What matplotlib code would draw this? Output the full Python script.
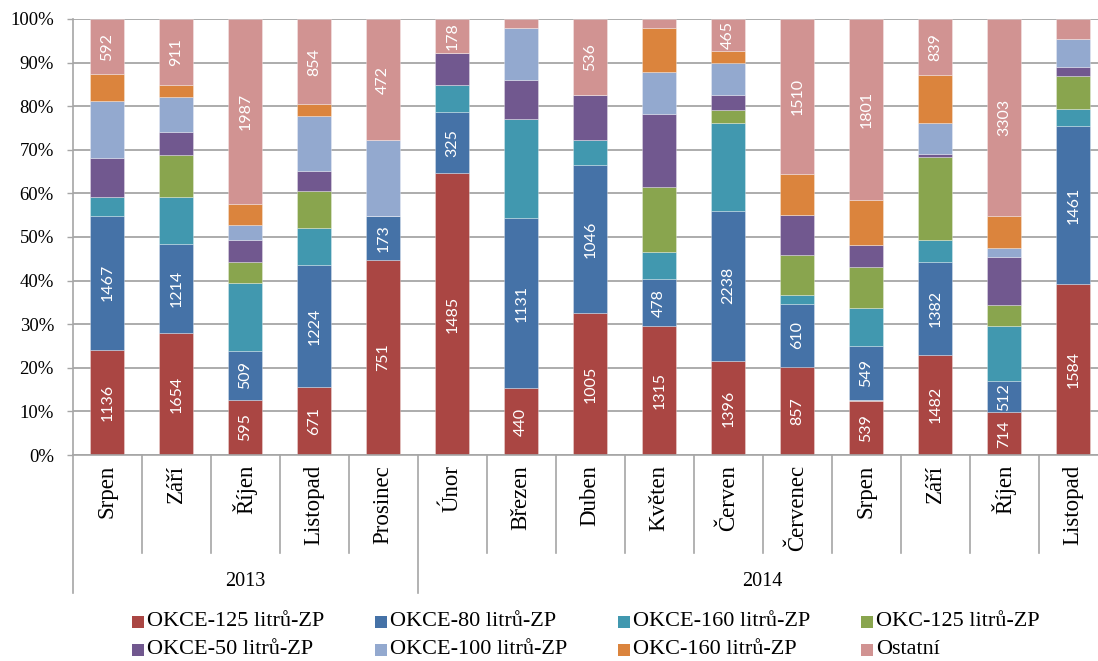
import matplotlib
matplotlib.use("Agg")
import matplotlib.pyplot as plt
from matplotlib.patches import Rectangle
import numpy as np

months = ["Srpen", "Září", "Říjen", "Listopad", "Prosinec", "Únor", "Březen",
          "Duben", "Květen", "Červen", "Červenec", "Srpen", "Září", "Říjen", "Listopad"]
years = ["2013", "2014"]
year_counts = [5, 10]

series_names = ["OKCE-125 litrů-ZP", "OKCE-80 litrů-ZP", "OKCE-160 litrů-ZP", "OKC-125 litrů-ZP",
                "OKCE-50 litrů-ZP", "OKCE-100 litrů-ZP", "OKC-160 litrů-ZP", "Ostatní"]
colors = ["#AA4643", "#4572A7", "#4198AF", "#89A54E", "#71588F", "#93A9CF", "#DB843D", "#D19392"]

# shares (%)
okce125 = [24.1, 27.9, 12.7, 15.5, 44.7, 64.6, 15.3, 32.6, 29.6, 21.6, 20.2, 12.5, 23.0, 9.8, 39.2]
okce80 = [30.8, 20.6, 11.1, 28.0, 10.2, 14.1, 39.1, 33.8, 10.7, 34.4, 14.5, 12.6, 21.2, 7.1, 36.2]
okce160 = [4.3, 10.7, 15.6, 8.6, 0, 6.1, 22.7, 5.8, 6.3, 20.2, 2.0, 8.7, 5.1, 12.8, 4.0]
okc125 = [0, 9.7, 4.8, 8.5, 0, 0, 0, 0, 14.9, 2.9, 9.1, 9.3, 19.0, 4.6, 7.5]
okce50 = [9.0, 5.2, 5.1, 4.6, 0, 7.5, 9.0, 10.4, 16.7, 3.5, 9.2, 5.1, 0.8, 11.0, 2.2]
okce100 = [13.1, 7.9, 3.4, 12.5, 17.3, 0, 11.9, 0, 9.6, 7.2, 0, 0, 7.0, 2.2, 6.3]
okc160 = [6.0, 2.8, 4.9, 2.7, 0, 0, 0, 0, 10.1, 2.9, 9.5, 10.4, 11.1, 7.4, 0]
ostatni = [12.7, 15.2, 42.4, 19.6, 27.8, 7.7, 2.0, 17.4, 2.1, 7.3, 35.5, 41.4, 12.8, 45.1, 4.6]

# data labels (counts) shown inside segments
labels_okce125 = [1136, 1654, 595, 671, 751, 1485, 440, 1005, 1315, 1396, 857, 539, 1482, 714, 1584]
labels_okce80 = [1467, 1214, 509, 1224, 173, 325, 1131, 1046, 478, 2238, 610, 549, 1382, 512, 1461]
labels_ostatni = [592, 911, 1987, 854, 472, 178, None, 536, None, 465, 1510, 1801, 839, 3303, None]

series = [okce125, okce80, okce160, okc125, okce50, okce100, okc160, ostatni]
label_map = {0: labels_okce125, 1: labels_okce80, 7: labels_ostatni}

W, H = 1098, 661
fig = plt.figure(figsize=(W / 100, H / 100), dpi=100)
ax_left, ax_right, ax_top, ax_bot = 72.7, 72.7 + 15 * 69.0, 19.0, 455.0
ax = fig.add_axes([ax_left / W, 1 - ax_bot / H, (ax_right - ax_left) / W, (ax_bot - ax_top) / H])

vals = np.array(series, dtype=float)
totals = vals.sum(axis=0)
pct = vals / totals * 100
x = np.arange(len(months))
bottom = np.zeros(len(months))
grid_c = "#A6A6A6"
for i, (name, col) in enumerate(zip(series_names, colors)):
    ax.bar(x, pct[i], 0.5, bottom=bottom, color=col, label=name,
           edgecolor=(1, 1, 1, 0.35), linewidth=0.6, zorder=2)
    if i in label_map:
        for j, lab in enumerate(label_map[i]):
            if lab is not None:
                ax.text(x[j], bottom[j] + pct[i][j] / 2, str(lab), rotation=90,
                        ha="center", va="center", color="white", fontsize=11.5,
                        family=["Lato", "DejaVu Sans"], zorder=3)
    bottom += pct[i]

ax.set_xlim(-0.5, len(months) - 0.5)
ax.set_ylim(0, 100)
ax.set_yticks(np.arange(0, 101, 10))
ax.set_yticklabels([f"{v}%" for v in range(0, 101, 10)], family="Liberation Serif", fontsize=13.5)
ax.yaxis.grid(True, color=grid_c, linewidth=1.3)
ax.set_axisbelow(True)
ax.tick_params(axis="y", length=4.5, width=1.0, color=grid_c, pad=9)
ax.tick_params(axis="x", length=0, labelbottom=False)
for s in ["top", "right"]:
    ax.spines[s].set_visible(False)
ax.spines["left"].set_color(grid_c)
ax.spines["bottom"].set_color(grid_c)
ax.spines["left"].set_linewidth(1.2)
ax.spines["bottom"].set_linewidth(1.2)

trans = ax.get_xaxis_transform()
axh = ax_bot - ax_top
def ypix(p):
    return -(p - ax_bot) / axh

# category separators
bounds = np.cumsum([0] + year_counts)
group_edges = set(bounds.tolist())
for k in range(len(months) + 1):
    xe = k - 0.5
    y_end = ypix(593) if k in group_edges else ypix(553)
    ax.plot([xe, xe], [0, y_end], transform=trans, color=grid_c, lw=1.2,
            clip_on=False, zorder=1)

for j, m in enumerate(months):
    ax.text(j, ypix(465), m, transform=trans, rotation=90, ha="center", va="top",
            family="Liberation Serif", fontsize=16.5)

for g, yr in enumerate(years):
    cx = (bounds[g] + bounds[g + 1] - 1) / 2
    ax.text(cx, ypix(582), yr, transform=trans, ha="center", va="center",
            family="Liberation Serif", fontsize=14.5)

# legend (row-major, 4 per row)
sq = 12
for i, (name, col) in enumerate(zip(series_names, colors)):
    r, c = divmod(i, 4)
    px = 132 + c * 243
    py = 622 + r * 28
    fig.patches.append(Rectangle((px / W, 1 - (py + sq / 2) / H), sq / W, sq / H,
                                 transform=fig.transFigure, facecolor=col, edgecolor="none"))
    fig.text((px + sq + 3) / W, 1 - py / H, name, ha="left", va="center",
             family="Liberation Serif", fontsize=16)

fig.savefig("out.png", dpi=100)
